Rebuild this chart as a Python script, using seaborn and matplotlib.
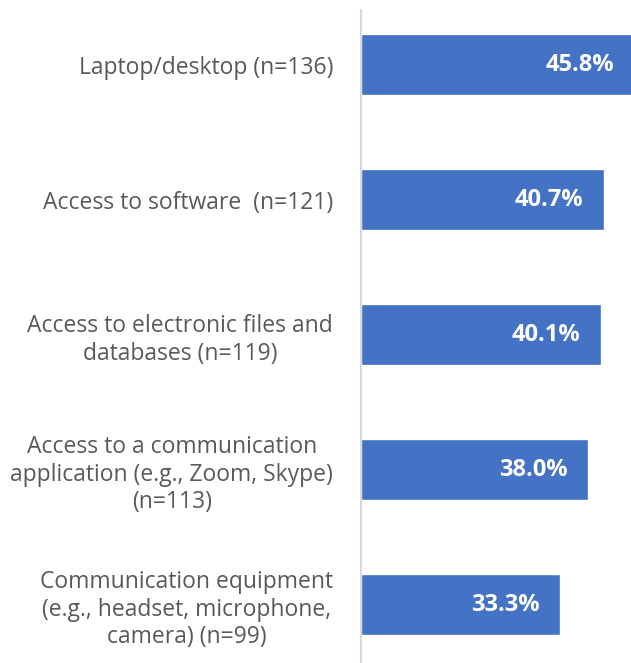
import matplotlib
matplotlib.use("Agg")
import matplotlib.pyplot as plt
import seaborn as sns
import pandas as pd

categories = [
    "Laptop/desktop (n=136)",
    "Access to software  (n=121)",
    "Access to electronic files and\ndatabases (n=119)",
    "Access to a communication\napplication (e.g., Zoom, Skype)\n(n=113)",
    "Communication equipment\n(e.g., headset, microphone,\ncamera) (n=99)",
]
percentages = [45.8, 40.7, 40.1, 38.0, 33.3]
value_labels = ["45.8%", "40.7%", "40.1%", "38.0%", "33.3%"]

df = pd.DataFrame({"item": categories, "pct": percentages})

sns.set_style("white")
plt.rcParams["font.family"] = ["Open Sans", "DejaVu Sans"]

fig = plt.figure(figsize=(6.31, 6.63), dpi=100)
ax = fig.add_axes([361 / 631, 0.0, 1 - 361 / 631, 653 / 663])

sns.barplot(data=df, y="item", x="pct", orient="h", color="#4472C4",
            saturation=1, width=0.452, ax=ax)

ax.set_xlim(0, 45.15)
ax.set_ylim(4.43, -0.407)
ax.set_xlabel("")
ax.set_ylabel("")
ax.set_xticks([])

for s in ["top", "right", "bottom"]:
    ax.spines[s].set_visible(False)
ax.spines["left"].set_color("#D9D9D9")
ax.spines["left"].set_linewidth(1.5)

ax.tick_params(axis="y", length=0, pad=20)
for lbl in ax.get_yticklabels():
    lbl.set_fontsize(16.5)
    lbl.set_color("#595959")
    lbl.set_multialignment("center")
    lbl.set_linespacing(1.2)

for i, (v, t) in enumerate(zip(percentages, value_labels)):
    ax.annotate(t, xy=(v, i), xytext=(-15, 0), textcoords="offset points",
                ha="right", va="center", color="white", fontsize=17,
                fontweight="bold", annotation_clip=False)

fig.savefig("out.png", dpi=100)
